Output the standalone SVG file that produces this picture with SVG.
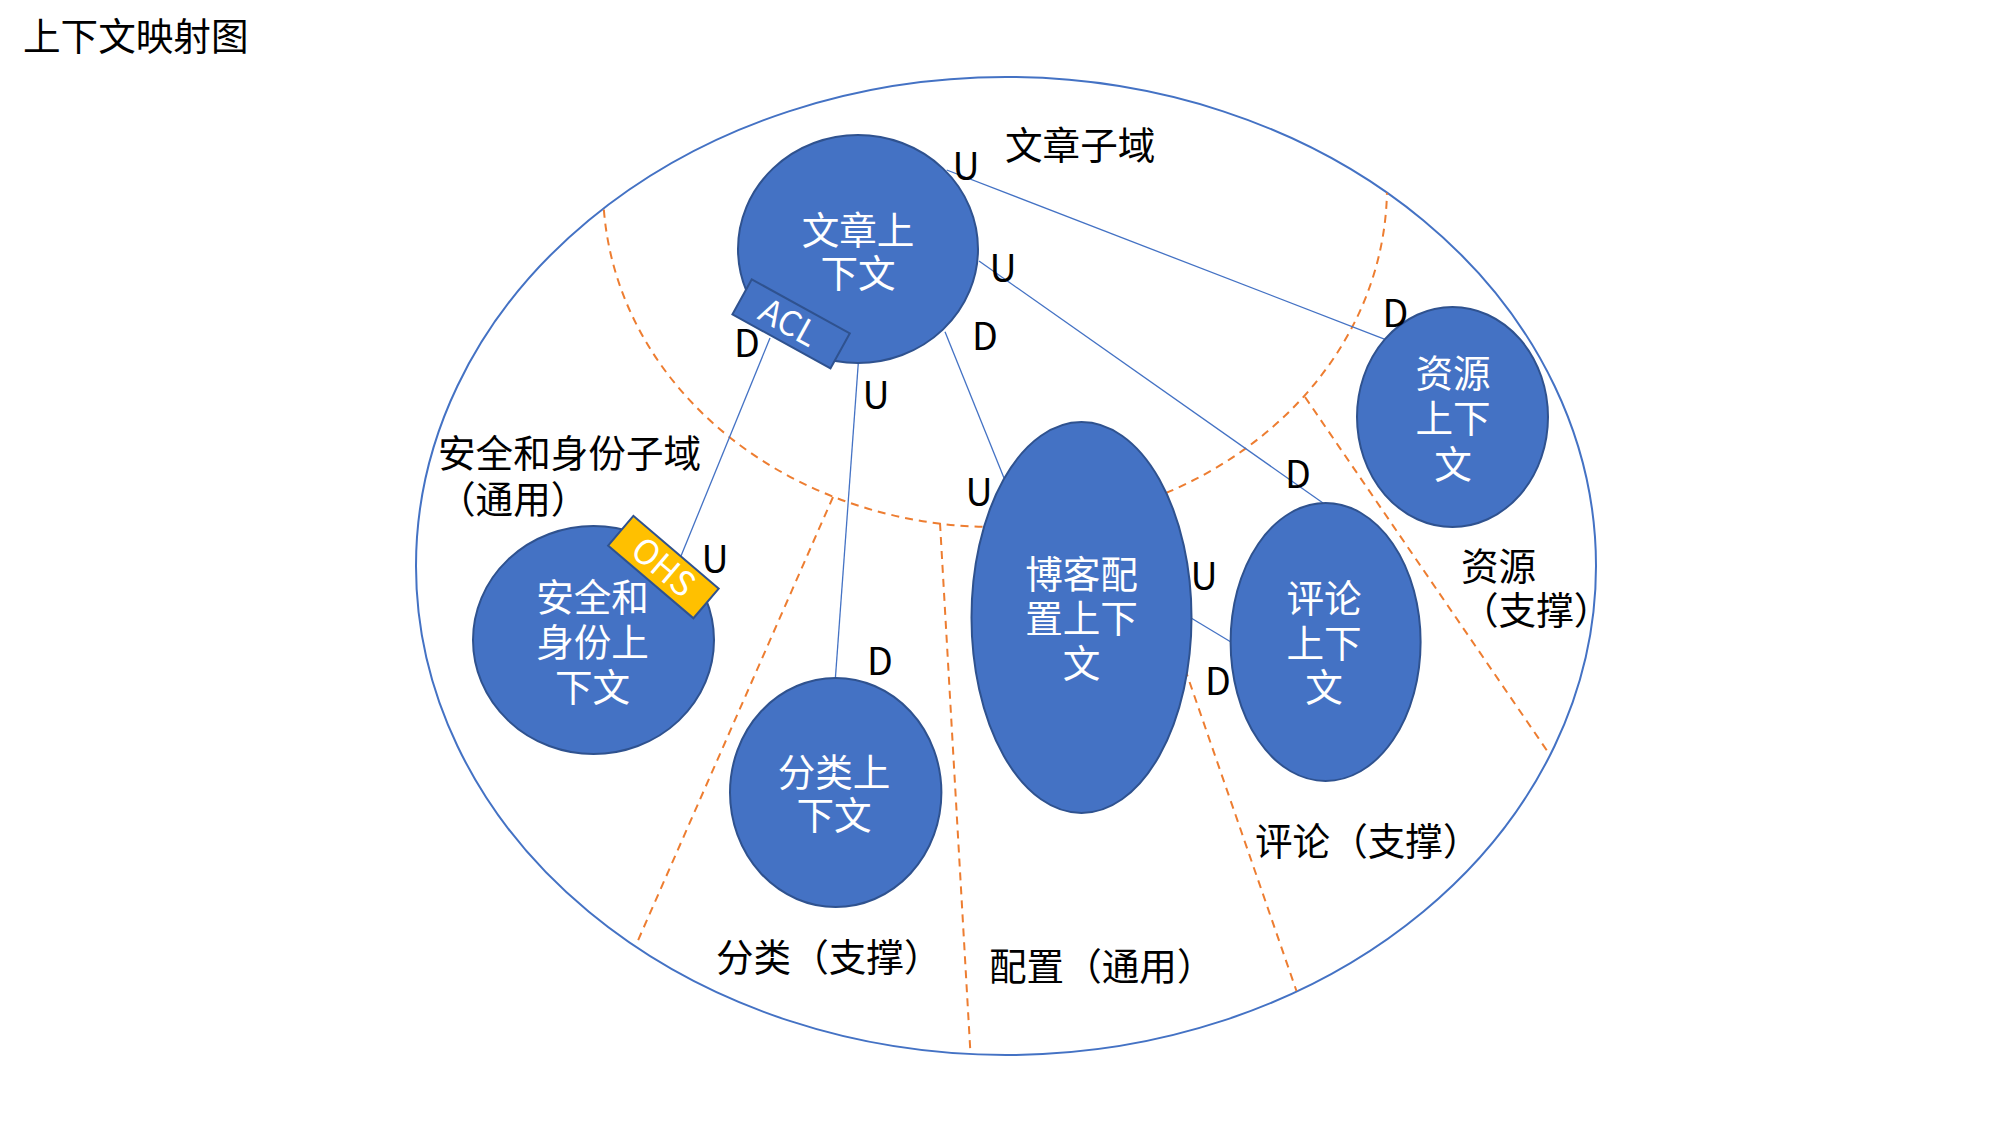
<svg xmlns="http://www.w3.org/2000/svg" width="2006" height="1129" viewBox="0 0 2006 1129">
<defs>
<style>
text { font-family: "Noto Sans CJK SC", "Noto Sans", sans-serif; font-size: 37.6px; }
.lbl { fill: #000000; }
.nt { fill: #ffffff; text-anchor: middle; }
.ud { fill: #000000; text-anchor: middle; }
.node { fill: #4472C4; stroke: #2F528F; stroke-width: 2; }
.conn { stroke: #4472C4; stroke-width: 1.3; fill: none; }
.dash { stroke: #ED7D31; stroke-width: 2; stroke-dasharray: 8 6; fill: none; }
.box { stroke: #2F528F; stroke-width: 2; }
.boxt { fill: #ffffff; text-anchor: middle; font-size: 34px; }
</style>
<clipPath id="inside"><ellipse cx="1006" cy="566" rx="590" ry="489"/></clipPath>
</defs>
<rect width="2006" height="1129" fill="#ffffff"/>
<text class="lbl" x="23" y="50">上下文映射图</text>

<g id="boundary">
<ellipse cx="1006" cy="566" rx="590" ry="489" fill="none" stroke="#4472C4" stroke-width="2"/>
</g>

<g id="subdomain-dividers">
<ellipse class="dash" cx="995" cy="187" rx="392" ry="340" clip-path="url(#inside)"/>
<line class="dash" x1="833" y1="497" x2="636" y2="945"/>
<line class="dash" x1="940" y1="523" x2="970.5" y2="1054"/>
<line class="dash" x1="1130" y1="510" x2="1296.5" y2="991"/>
<line class="dash" x1="1305" y1="397" x2="1550" y2="755"/>
</g>

<g id="connectors">
<line class="conn" x1="946.7" y1="170" x2="1385" y2="339.3"/>
<line class="conn" x1="979" y1="261" x2="1323" y2="503"/>
<line class="conn" x1="945" y1="331.7" x2="1004" y2="478"/>
<line class="conn" x1="858.3" y1="363" x2="835.4" y2="678"/>
<line class="conn" x1="770" y1="338" x2="681" y2="556"/>
<line class="conn" x1="1191.5" y1="618.3" x2="1230.5" y2="641.7"/>
</g>

<g id="article-context">
<ellipse class="node" cx="858" cy="249" rx="120" ry="114"/>
<text class="nt"><tspan x="858" y="244">文章上</tspan><tspan x="858" y="287">下文</tspan></text>
</g>

<g id="acl">
<g transform="translate(791.1,323.9) rotate(28.9)">
<rect class="box" x="-56" y="-20" width="112" height="40" fill="#4472C4"/>
<text class="boxt" x="-3" y="12">ACL</text>
</g>
</g>

<g id="security-context">
<ellipse class="node" cx="593.5" cy="640" rx="120.5" ry="114"/>
<text class="nt"><tspan x="592.5" y="611">安全和</tspan><tspan x="592.5" y="656">身份上</tspan><tspan x="592.5" y="701">下文</tspan></text>
</g>

<g id="ohs">
<g transform="translate(663.4,567.1) rotate(40.4)">
<rect class="box" x="-56" y="-19.5" width="112" height="39" fill="#FFC000"/>
<text class="boxt" x="0" y="12">OHS</text>
</g>
</g>

<g id="category-context">
<ellipse class="node" cx="835.7" cy="792.5" rx="105.7" ry="114.5"/>
<text class="nt"><tspan x="834" y="786">分类上</tspan><tspan x="834" y="829">下文</tspan></text>
</g>

<g id="blog-config-context">
<ellipse class="node" cx="1081.5" cy="617.5" rx="110" ry="195.5"/>
<text class="nt"><tspan x="1081.5" y="588">博客配</tspan><tspan x="1081.5" y="632">置上下</tspan><tspan x="1081.5" y="677">文</tspan></text>
</g>

<g id="comment-context">
<ellipse class="node" cx="1325.6" cy="642" rx="95" ry="139"/>
<text class="nt"><tspan x="1324" y="612">评论</tspan><tspan x="1324" y="657">上下</tspan><tspan x="1324" y="701">文</tspan></text>
</g>

<g id="resource-context">
<ellipse class="node" cx="1452.5" cy="417" rx="95.5" ry="110"/>
<text class="nt"><tspan x="1453" y="387">资源</tspan><tspan x="1453" y="432">上下</tspan><tspan x="1453" y="478">文</tspan></text>
</g>

<g id="region-labels">
<text class="lbl" x="1005" y="158.5">文章子域</text>
<text class="lbl"><tspan x="438" y="467">安全和身份子域</tspan><tspan x="438" y="513">（通用）</tspan></text>
<text class="lbl"><tspan x="1461" y="580">资源</tspan><tspan x="1461" y="624">（支撑）</tspan></text>
<text class="lbl" x="1255" y="855">评论（支撑）</text>
<text class="lbl" x="716" y="971">分类（支撑）</text>
<text class="lbl" x="989" y="980">配置（通用）</text>
</g>

<g id="ud-labels">
<text class="ud" x="966" y="180">U</text>
<text class="ud" x="1003" y="282">U</text>
<text class="ud" x="985" y="350">D</text>
<text class="ud" x="747" y="357">D</text>
<text class="ud" x="876" y="409">U</text>
<text class="ud" x="979" y="506">U</text>
<text class="ud" x="715" y="573">U</text>
<text class="ud" x="1395.5" y="327">D</text>
<text class="ud" x="1298" y="488">D</text>
<text class="ud" x="1204" y="590">U</text>
<text class="ud" x="1218" y="695">D</text>
<text class="ud" x="880" y="675">D</text>
</g>
</svg>
